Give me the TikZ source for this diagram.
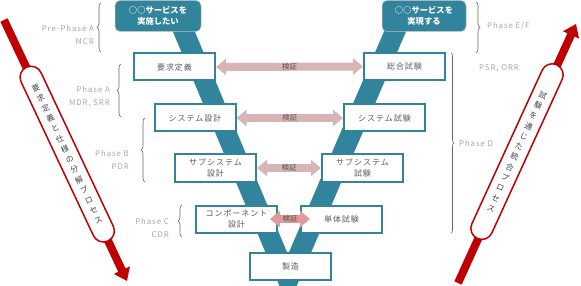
\documentclass[tikz,border=0pt]{standalone}
\usepackage{fontspec}
\setmainfont{Noto Sans CJK JP}
\newfontfamily\jpspaced[LetterSpace=12]{Noto Sans CJK JP}
\usetikzlibrary{arrows.meta,positioning,calc,decorations.pathreplacing}
\definecolor{VTeal}  {HTML}{31849B}
\definecolor{VRed}   {HTML}{C00000}
\definecolor{VPink}  {HTML}{D9B4B4}
\definecolor{VPinkDk}{HTML}{E09A9A}
\definecolor{VText}  {HTML}{595959}
\definecolor{VGray}  {HTML}{A6A6A6}
\definecolor{VBrace} {HTML}{404040}
\definecolor{VWhite} {HTML}{FFFFFF}

\tikzset{
  stage/.style={draw=VTeal,line width=2pt,fill=VWhite,minimum width=81pt,minimum height=27pt,
    inner sep=1pt,align=center,text=VText,font=\jpspaced\fontsize{8}{11.5}\selectfont},
  goal/.style={draw=VGray!70,line width=0.5pt,fill=VTeal,rounded corners=5pt,minimum height=31pt,
    inner sep=1pt,align=center,text=VWhite,font=\bfseries\fontsize{8.3}{11.5}\selectfont},
  verify/.style={draw=VPink,line width=8pt,>={Triangle[length=10pt,width=16pt]},<->},
  verifytext/.style={text=VText,font=\fontsize{7.5}{8}\selectfont,inner sep=0pt},
  phasebrace/.style={decorate,decoration={brace,amplitude=4pt},draw=VBrace!80,line width=0.6pt},
  phasetext/.style={text=VGray,align=right,font=\jpspaced\fontsize{7.8}{13}\selectfont,inner sep=0pt},
  tube/.style={draw=VRed,line width=1.5pt,fill=VWhite,rounded corners=11pt,minimum width=22pt,
    inner sep=0pt,align=center,text=VBrace,font=\fontsize{7.8}{11.3}\selectfont},
  flow/.style={draw=VRed,line width=8pt,-{Triangle[length=12pt,width=17pt]}}
}

\begin{document}
\begin{tikzpicture}[x=1pt,y=-1pt]
    \useasboundingbox (0,0) rectangle (581,286);
    % V band
    \fill[VTeal] (168,20) -- (190,20) -- (288,254.5) -- (389,20) -- (411,20)
      -- (296.7,286) -- (279.5,286) -- cycle;
    % Goals
    \node[goal,minimum width=86pt] (want) at (158,16) {○○サービスを\\実施したい};
    \node[goal,minimum width=84pt] (done) at (424,16) {○○サービスを\\実現する};
    % Stages
    \node[stage] (req)     at (174.5,67)  {要求定義};
    \node[stage] (integ)   at (404.5,66.5){総合試験};
    \node[stage] (sys)     at (195,118)   {システム設計};
    \node[stage] (systest) at (384.5,118) {システム試験};
    \node[stage] (sub)     at (215.5,168) {サブシステム\\設計};
    \node[stage] (subtest) at (362.5,168) {サブシステム\\試験};
    \node[stage] (comp)    at (236.5,219) {コンポーネント\\設計};
    \node[stage] (unit)    at (341.5,219) {単体試験};
    \node[stage] (mfg)     at (290.5,266.5){製造};
    % Verification arrows
    \draw[verify] (req.east) -- (integ.west) node[midway,verifytext] {検証};
    \draw[verify] (sys.east) -- (systest.west) node[midway,verifytext] {検証};
    \draw[verify] (sub.east) -- (subtest.west) node[midway,verifytext] {検証};
    \draw[verify,draw=VPinkDk] ([xshift=-8pt]comp.east) -- ([xshift=10pt]unit.west)
      node[midway,verifytext] {検証};
    % Phase braces, left
    \draw[phasebrace] (101,52) -- (101,3);
    \draw[phasebrace] (121,117) -- (121,64);
    \draw[phasebrace] (145,182) -- (145,118);
    \draw[phasebrace] (182,237) -- (182,205);
    % Phase braces, right
    \draw[phasebrace] (476,2) -- (476,53);
    \draw[phasebrace,decoration={brace,amplitude=3pt}] (451,53) -- (451,233);
    % Phase labels
    \node[phasetext,anchor=east] (prea)   at (94,34.5)  {Pre-Phase A\\MCR};
    \node[phasetext,anchor=east] (phasea) at (110,96.5) {Phase A\\MDR, SRR};
    \node[phasetext,anchor=east] (phaseb) at (129,159.5){Phase B\\PDR};
    \node[phasetext,anchor=east] (phasec) at (169,228)  {Phase C\\CDR};
    \node[phasetext,anchor=west] (phaseef) at (487,26)  {Phase E/F};
    \node[phasetext,anchor=west] (psr)     at (479,68)  {PSR, ORR};
    \node[phasetext,anchor=west] (phased)  at (459,143) {Phase D};
    % Process arrows
    \coordinate (dtop) at (4,20);
    \coordinate (dend) at (127,281);
    \draw[flow] (dtop) -- (dend);
    \node[tube,minimum height=192pt,rotate=25.2] (decomp) at (67.2,154.1)
      {要\\求\\定\\義\\と\\仕\\様\\の\\分\\解\\プ\\ロ\\セ\\ス};
    \coordinate (ubot) at (458,283);
    \coordinate (utop) at (576,24);
    \draw[flow] (ubot) -- (utop);
    \node[tube,minimum height=191pt,rotate=-24.6] (compose) at (517,151.6)
      {試\\験\\を\\通\\じ\\た\\統\\合\\プ\\ロ\\セ\\ス};
\end{tikzpicture}
\end{document}
